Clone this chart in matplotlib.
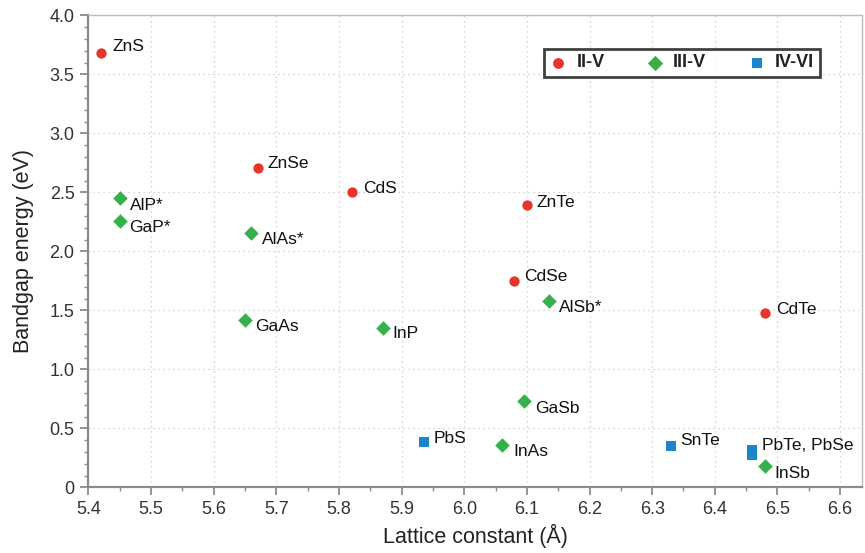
import matplotlib
matplotlib.use("Agg")
import matplotlib.pyplot as plt
from matplotlib.ticker import MultipleLocator, FixedLocator

plt.rcParams['font.family'] = ['Liberation Sans', 'DejaVu Sans']

# II-VI compounds
ii_names = ["ZnS", "ZnSe", "CdS", "ZnTe", "CdSe", "CdTe"]
ii_a = [5.42, 5.67, 5.82, 6.10, 6.08, 6.48]
ii_eg = [3.68, 2.71, 2.50, 2.39, 1.75, 1.48]

# III-V compounds
iii_names = ["AlP*", "GaP*", "AlAs*", "GaAs", "InP", "AlSb*", "GaSb", "InAs", "InSb"]
iii_a = [5.45, 5.45, 5.66, 5.65, 5.87, 6.135, 6.095, 6.06, 6.48]
iii_eg = [2.45, 2.26, 2.16, 1.42, 1.35, 1.58, 0.73, 0.36, 0.18]

# IV-VI compounds
iv_names = ["PbS", "SnTe", "PbTe", "PbSe"]
iv_a = [5.935, 6.33, 6.46, 6.46]
iv_eg = [0.38, 0.35, 0.32, 0.27]

# label offsets (points) for each compound
offsets = {
    "ZnS": (8, 5), "ZnSe": (7, 3), "CdS": (8, 3), "ZnTe": (7, 2),
    "CdSe": (7, 3), "CdTe": (8, 2),
    "AlP*": (7, -5), "GaP*": (7, -5), "AlAs*": (8, -5), "GaAs": (7, -5),
    "InP": (7, -4), "AlSb*": (7, -5), "GaSb": (8, -5), "InAs": (8, -5),
    "InSb": (7, -5), "PbS": (7, 3), "SnTe": (7, 4),
}

fig = plt.figure(figsize=(8.65, 5.53), dpi=100)
ax = fig.add_axes([0.1023, 0.1188, 0.8942, 0.8532])

red = "#e8352b"
green = "#35b04a"
blue = "#1b87c9"

ax.scatter(ii_a, ii_eg, s=55, marker="o", color=red, label="II-V", zorder=3, linewidths=0)
ax.scatter(iii_a, iii_eg, s=55, marker="D", color=green, label="III-V", zorder=3, linewidths=0)
ax.scatter(iv_a, iv_eg, s=50, marker="s", color=blue, label="IV-VI", zorder=3, linewidths=0)

label_kw = dict(textcoords="offset points", fontsize=12.5, color="#111111", va="center", ha="left")
for names, xs, ys in [(ii_names, ii_a, ii_eg), (iii_names, iii_a, iii_eg), (iv_names, iv_a, iv_eg)]:
    for n, x, y in zip(names, xs, ys):
        if n in offsets:
            ax.annotate(n, (x, y), xytext=offsets[n], **label_kw)
# PbTe and PbSe share one label
ax.annotate("PbTe, PbSe", (iv_a[2], (iv_eg[2] + iv_eg[3]) / 2), xytext=(7, 5), **label_kw)

ax.set_xlim(5.4, 6.635)
ax.set_ylim(0, 4.0)
xt = [5.4 + 0.1 * i for i in range(13)]
ax.xaxis.set_major_locator(FixedLocator(xt))
ax.xaxis.set_minor_locator(MultipleLocator(0.05))
ax.set_xticklabels([f"{v:.1f}" for v in xt])
ax.yaxis.set_minor_locator(MultipleLocator(0.1))
ax.set_yticks([0.5 * i for i in range(9)])
ax.set_yticklabels(["0"] + [f"{0.5 * i:.1f}" for i in range(1, 9)])

ax.grid(True, which="major", linestyle=(0, (1, 3)), color="#c8c8c8", linewidth=0.9)
ax.set_axisbelow(True)

for side in ["left", "bottom"]:
    ax.spines[side].set_color("#8a8a8a")
    ax.spines[side].set_linewidth(1.6)
for side in ["top", "right"]:
    ax.spines[side].set_color("#bbbbbb")
    ax.spines[side].set_linewidth(1.0)

ax.tick_params(which="major", direction="out", length=6, width=1.3, color="#8a8a8a",
               labelsize=13, labelcolor="#333333", pad=4)
ax.tick_params(which="minor", direction="out", length=3, width=1.0, color="#8a8a8a")

ax.set_xlabel("Lattice constant (Å)", fontsize=15.5, color="#222222", labelpad=4)
ax.set_ylabel("Bandgap energy (eV)", fontsize=15.5, color="#222222", labelpad=11)

leg = ax.legend(loc="upper center", bbox_to_anchor=(0.767, 0.929), borderaxespad=0,
                ncol=3, fontsize=13, frameon=True, fancybox=False,
                handlelength=1.0, handletextpad=0.5, columnspacing=2.3,
                borderpad=0.3, markerscale=1.05)
leg.get_frame().set_edgecolor("#111111")
leg.get_frame().set_linewidth(2.0)
for t in leg.get_texts():
    t.set_fontweight("bold")
    t.set_color("#222222")

fig.savefig("out.png", dpi=100)
